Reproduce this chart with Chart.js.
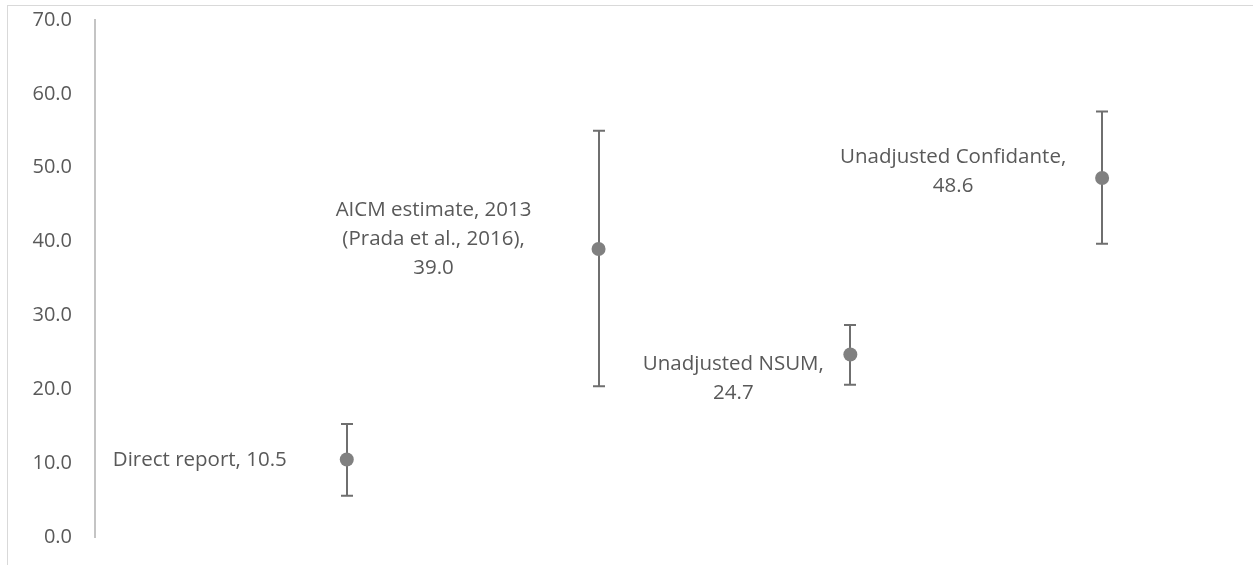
<!DOCTYPE html>
<html>
<head>
<meta charset="utf-8">
<script src="https://cdn.jsdelivr.net/npm/chart.js@4/dist/chart.umd.min.js"></script>
<style>
  html, body { margin: 0; padding: 0; background: #ffffff; }
  #wrap { width: 1253px; height: 565px; position: relative; }
</style>
</head>
<body>
<div id="wrap"><canvas id="chart"></canvas></div>
<script>
// Estimates with their interval bounds
const categories = [
  ['Direct report'],
  ['AICM estimate, 2013', '(Prada et al., 2016)'],
  ['Unadjusted NSUM'],
  ['Unadjusted Confidante']
];
const estimates = [10.5, 39.0, 24.7, 48.6];
const lowerBounds = [5.6, 20.4, 20.6, 39.7];
const upperBounds = [15.3, 55.0, 28.7, 57.6];
const yTicks = [0, 10, 20, 30, 40, 50, 60, 70];

const TEXT = '#595959';
const FONT = '"Open Sans", "Liberation Sans", sans-serif';

const points = estimates.map((v, i) => ({ x: i + 1, y: v }));

// Label text: category lines, value appended either inline or on its own line
function labelLines(i, inline) {
  const cat = categories[i].slice();
  const val = estimates[i].toFixed(1);
  if (inline) {
    cat[cat.length - 1] += ', ' + val;
    return cat;
  }
  cat[cat.length - 1] += ',';
  cat.push(val);
  return cat;
}

const chartBorder = {
  id: 'chartBorder',
  beforeDraw(chart) {
    const ctx = chart.ctx;
    ctx.save();
    ctx.strokeStyle = '#d9d9d9';
    ctx.lineWidth = 1;
    ctx.strokeRect(7.5, 5.5, chart.width + 20, chart.height + 20);
    ctx.restore();
  }
};

const errorBars = {
  id: 'errorBars',
  beforeDatasetsDraw(chart) {
    const ctx = chart.ctx;
    const xs = chart.scales.x, ys = chart.scales.y;
    ctx.save();
    ctx.strokeStyle = '#6f6f6f';
    ctx.lineWidth = 2;
    estimates.forEach((v, i) => {
      const x = Math.round(xs.getPixelForValue(i + 1));
      const yLo = ys.getPixelForValue(lowerBounds[i]);
      const yHi = ys.getPixelForValue(upperBounds[i]);
      ctx.beginPath();
      ctx.moveTo(x, yLo); ctx.lineTo(x, yHi);
      ctx.moveTo(x - 6, yLo); ctx.lineTo(x + 6, yLo);
      ctx.moveTo(x - 6, yHi); ctx.lineTo(x + 6, yHi);
      ctx.stroke();
    });
    ctx.restore();
  }
};

const pointLabels = {
  id: 'pointLabels',
  afterDatasetsDraw(chart, args, opts) {
    const ctx = chart.ctx;
    const xs = chart.scales.x, ys = chart.scales.y;
    ctx.save();
    ctx.fillStyle = TEXT;
    ctx.font = '20.5px ' + FONT;
    ctx.textAlign = 'center';
    ctx.textBaseline = 'middle';
    opts.placements.forEach((p, i) => {
      const lines = labelLines(i, p.inline);
      const cx = xs.getPixelForValue(i + 1) + p.dx;
      const cy = ys.getPixelForValue(estimates[i]) + p.dy;
      const top = cy - (lines.length - 1) * opts.lineHeight / 2;
      lines.forEach((t, k) => ctx.fillText(t, cx, top + k * opts.lineHeight));
    });
    ctx.restore();
  }
};

new Chart(document.getElementById('chart'), {
  type: 'scatter',
  data: {
    datasets: [{
      data: points,
      pointRadius: 7,
      pointHoverRadius: 7,
      pointBackgroundColor: '#808080',
      pointBorderColor: '#808080',
      pointBorderWidth: 0,
      showLine: false
    }]
  },
  options: {
    responsive: true,
    maintainAspectRatio: false,
    animation: false,
    events: [],
    layout: { padding: { top: 20, bottom: 28, right: 25, left: 0 } },
    plugins: {
      legend: { display: false },
      tooltip: { enabled: false },
      pointLabels: {
        lineHeight: 29,
        placements: [
          { dx: -147, dy: 1, inline: true },
          { dx: -165, dy: -10, inline: false },
          { dx: -117, dy: 24, inline: false },
          { dx: -149, dy: -6, inline: false }
        ]
      }
    },
    scales: {
      x: {
        type: 'linear',
        min: 0,
        max: 4.5,
        display: false
      },
      y: {
        min: 0,
        max: 70,
        afterFit(scale) { scale.width = 95; },
        afterBuildTicks(scale) { scale.ticks = yTicks.map(v => ({ value: v })); },
        grid: { display: false, drawTicks: true, tickLength: 23 },
        border: { display: true, color: '#c4c4c4', width: 2 },
        ticks: {
          padding: 0,
          color: TEXT,
          font: { family: FONT, size: 20 },
          callback: v => Number(v).toFixed(1)
        }
      }
    }
  },
  plugins: [chartBorder, errorBars, pointLabels]
});
</script>
</body>
</html>
